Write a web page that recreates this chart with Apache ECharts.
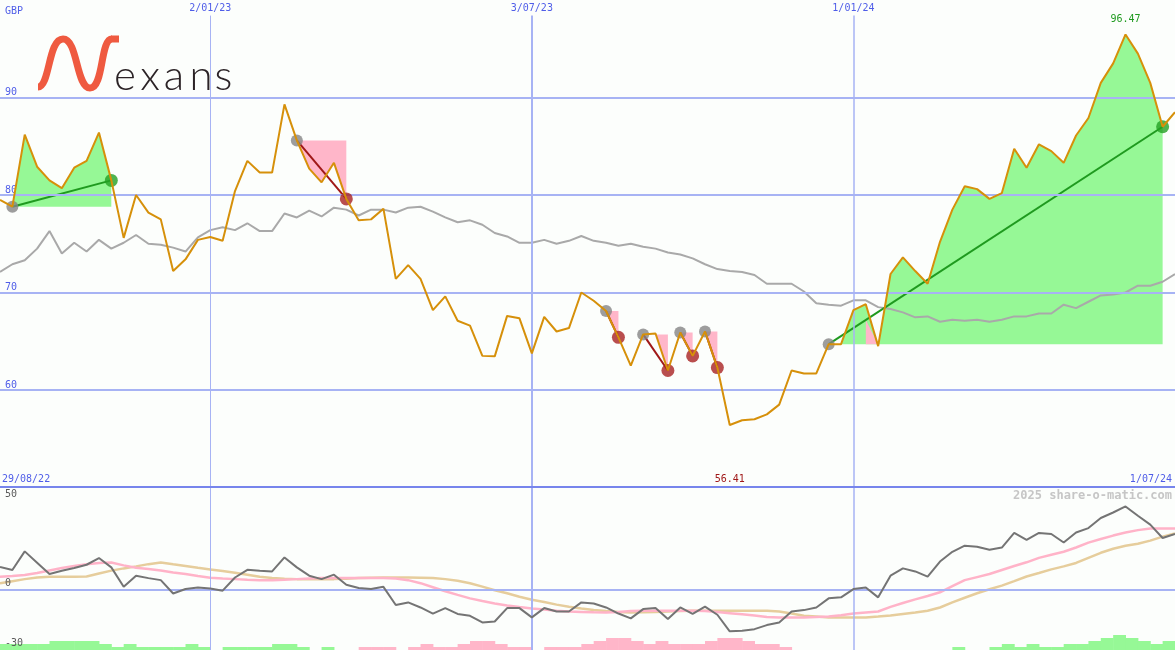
<!DOCTYPE html>
<html><head><meta charset="utf-8">
<script src="https://cdn.jsdelivr.net/npm/echarts@6/dist/echarts.min.js"></script>
<style>html,body{margin:0;padding:0;background:#fcfefc}#c{width:1175px;height:650px}</style>
</head><body><div id="c"></div>
<script>
// weekly dates (Mondays)
const dates = [
 '5/09/22','12/09/22','19/09/22','26/09/22','3/10/22','10/10/22','17/10/22','24/10/22','31/10/22',
 '7/11/22','14/11/22','21/11/22','28/11/22','5/12/22','12/12/22','19/12/22','26/12/22',
 '2/01/23','9/01/23','16/01/23','23/01/23','30/01/23','6/02/23','13/02/23','20/02/23','27/02/23',
 '6/03/23','13/03/23','20/03/23','27/03/23','3/04/23','10/04/23','17/04/23','24/04/23',
 '1/05/23','8/05/23','15/05/23','22/05/23','29/05/23','5/06/23','12/06/23','19/06/23','26/06/23',
 '3/07/23','10/07/23','17/07/23','24/07/23','31/07/23','7/08/23','14/08/23','21/08/23','28/08/23',
 '4/09/23','11/09/23','18/09/23','25/09/23','2/10/23','9/10/23','16/10/23','23/10/23','30/10/23',
 '6/11/23','13/11/23','20/11/23','27/11/23','4/12/23','11/12/23','18/12/23','25/12/23',
 '1/01/24','8/01/24','15/01/24','22/01/24','29/01/24','5/02/24','12/02/24','19/02/24','26/02/24',
 '4/03/24','11/03/24','18/03/24','25/03/24','1/04/24','8/04/24','15/04/24','22/04/24','29/04/24',
 '6/05/24','13/05/24','20/05/24','27/05/24','3/06/24','10/06/24','17/06/24','24/06/24','1/07/24'
];
// Nexans weekly close, GBP
const price = [
 79.5, 78.8, 86.2, 82.9, 81.5, 80.7, 82.8, 83.5, 86.4, 81.5,
 75.6, 80.0, 78.2, 77.5, 72.2, 73.4, 75.4, 75.7, 75.3, 80.4,
 83.5, 82.3, 82.3, 89.3, 85.6, 82.7, 81.3, 83.3, 79.6, 77.4,
 77.5, 78.6, 71.4, 72.8, 71.4, 68.2, 69.6, 67.1, 66.6, 63.5,
 63.45, 67.6, 67.35, 63.75, 67.5, 66.0, 66.35, 70.0, 69.15, 68.1,
 65.4, 62.5, 65.7, 65.8, 62.0, 65.9, 63.5, 66.0, 62.3, 56.41,
 56.9, 57.0, 57.5, 58.5, 62.0, 61.7, 61.7, 64.7, 64.7, 68.2,
 68.8, 64.5, 71.9, 73.6, 72.2, 70.9, 75.2, 78.5, 80.9, 80.6,
 79.6, 80.2, 84.75, 82.8, 85.2, 84.5, 83.3, 86.1, 87.9, 91.5,
 93.5, 96.47, 94.5, 91.5, 87.0, 88.5
];
// relative-strength comparison line (grey)
const relative = [
 72.1, 72.9, 73.3, 74.5, 76.3, 74.0, 75.1, 74.2, 75.4, 74.5,
 75.1, 75.9, 75.0, 74.9, 74.6, 74.2, 75.65, 76.4, 76.7, 76.4,
 77.1, 76.3, 76.3, 78.1, 77.7, 78.4, 77.8, 78.7, 78.5, 77.9,
 78.5, 78.5, 78.2, 78.7, 78.8, 78.3, 77.7, 77.2, 77.4, 76.95,
 76.1, 75.75, 75.1, 75.1, 75.4, 75.0, 75.3, 75.8, 75.3, 75.1,
 74.8, 75.0, 74.7, 74.5, 74.1, 73.9, 73.5, 72.9, 72.4, 72.2,
 72.1, 71.8, 70.9, 70.9, 70.9, 70.1, 68.9, 68.75, 68.65, 69.2,
 69.2, 68.5, 68.3, 67.96, 67.45, 67.55, 67.0, 67.2, 67.1, 67.2,
 67.0, 67.2, 67.55, 67.55, 67.85, 67.85, 68.75, 68.4, 69.05, 69.7,
 69.8, 70.0, 70.7, 70.7, 71.1, 71.9
];
// lower panel: momentum oscillator and its averages
const momentum = [
 11.0, 9.5, 18.7, 13.1, 7.5, 9.1, 10.5, 12.1, 15.4, 10.8,
 1.2, 6.7, 5.5, 4.5, -2.1, 0.1, 0.9, 0.4, -0.7, 5.8,
 9.6, 9.1, 8.8, 15.7, 10.8, 6.7, 5.0, 7.2, 2.2, 0.6,
 0.1, 1.2, -7.8, -6.5, -9.0, -12.0, -9.3, -12.2, -13.1, -16.4,
 -15.9, -9.3, -9.3, -13.9, -9.3, -11.0, -11.0, -6.5, -7.0, -9.0,
 -12.0, -14.4, -9.8, -9.3, -14.7, -9.0, -12.2, -8.6, -12.6, -20.8,
 -20.5, -19.7, -17.7, -16.4, -11.0, -10.3, -9.0, -4.5, -4.0, 0.1,
 0.9, -4.0, 6.7, 10.3, 8.8, 6.2, 13.7, 18.5, 21.5, 21.0,
 19.5, 20.6, 27.8, 24.4, 27.8, 27.3, 23.1, 28.0, 30.2, 35.2,
 37.9, 40.9, 36.3, 31.9, 25.3, 27.3
];
const maFast = [
 6.2, 6.5, 7.0, 8.0, 9.3, 10.5, 11.5, 12.3, 13.0, 13.2,
 11.8, 10.6, 10.0, 9.3, 8.3, 7.5, 6.5, 5.7, 5.3, 5.0,
 4.7, 4.5, 4.5, 4.7, 5.0, 5.3, 5.5, 5.5, 5.5, 5.5,
 5.5, 5.5, 5.3, 4.5, 3.0, 1.0, -1.0, -2.8, -4.5, -5.8,
 -7.0, -8.0, -8.8, -9.5, -10.0, -10.6, -11.0, -11.2, -11.4, -11.5,
 -11.2, -10.8, -10.6, -10.6, -10.6, -10.6, -10.6, -10.8, -11.2, -11.8,
 -12.4, -13.0, -13.7, -13.9, -13.9, -13.9, -13.7, -13.4, -12.8, -12.0,
 -11.5, -11.0, -8.7, -6.8, -5.0, -3.3, -1.5, 1.5, 4.5, 6.0,
 7.5, 9.5, 11.5, 13.3, 15.5, 17.0, 18.5, 20.6, 23.0, 24.8,
 26.5, 28.0, 29.2, 30.0, 30.0, 30.0
];
const maSlow = [
 2.9, 4.0, 5.0, 5.8, 6.2, 6.2, 6.2, 6.3, 7.8, 9.2,
 10.3, 11.3, 12.4, 13.2, 12.3, 11.5, 10.6, 9.8, 9.0, 8.1,
 7.2, 6.2, 5.5, 5.2, 5.0, 5.0, 5.0, 5.0, 5.2, 5.5,
 5.7, 5.8, 5.8, 5.8, 5.7, 5.5, 5.0, 4.2, 3.0, 1.3,
 -0.5, -2.0, -3.7, -5.2, -6.3, -7.6, -8.6, -9.5, -10.3, -10.8,
 -11.2, -11.5, -11.4, -11.2, -11.0, -10.8, -10.6, -10.6, -10.6, -10.6,
 -10.6, -10.6, -10.6, -11.0, -12.0, -13.1, -13.5, -13.9, -13.9, -13.9,
 -13.9, -13.5, -13.0, -12.2, -11.5, -10.6, -9.0, -6.5, -4.2, -2.0,
 0.0, 1.8, 4.0, 6.3, 8.0, 9.8, 11.3, 13.0, 15.5, 18.0,
 20.0, 21.5, 22.5, 24.0, 26.0, 27.6
];
// histogram strip at the bottom (signed level)
const histLevels = [
 2,2,2,2,3,3,3,3,2,1,
 2,1,1,1,1,2,1,0,1,1,
 1,1,2,2,1,0,1,0,0,-1,
 -1,-1,0,-1,-2,-1,-1,-2,-3,-3,
 -2,-1,-1,0,-1,-1,-1,-2,-3,-4,
 -4,-3,-2,-3,-2,-2,-2,-3,-4,-4,
 -3,-2,-2,-1,0,0,0,0,0,0,
 0,0,0,0,0,0,0,1,0,0,
 1,2,1,2,1,1,2,2,3,4,
 5,4,3,2,3,0
];
// signals
const tradeEntry = ['12/09/22','20/02/23','14/08/23','4/09/23','25/09/23','9/10/23','18/12/23'];
const tradeExit  = ['7/11/22','20/03/23','21/08/23','18/09/23','2/10/23','16/10/23','24/06/24'];
const tradeDir   = ['long','short','short','short','short','short','long'];
const dipWeeks   = ['8/01/24'];   // week where a long trade dipped under its trend line
const gridDates = ['2/01/23','3/07/23','1/01/24'];
const priceGrid = [60,70,80,90];

const BLUE_GRID = '#a7b3f4';
const LABEL_BLUE = '#4f5de8';
const MONO = "'DejaVu Sans Mono', monospace";
const GREEN_FILL = '#96f896', PINK_FILL = '#ffb6c9';

const chart = echarts.init(document.getElementById('c'), null, {renderer:'canvas'});

const trades = tradeEntry.map((e,i)=>({i0: dates.indexOf(e), i1: dates.indexOf(tradeExit[i]), dir: tradeDir[i]}));
function tradeLineAt(t, j){
  const a = price[t.i0], b = price[t.i1];
  return a + (b - a) * (j - t.i0) / (t.i1 - t.i0);
}

function fillItem(params, api){
  const t = trades[params.dataIndex];
  const base = price[t.i0];
  const pts = [api.coord([t.i0, base])];
  for (let j=t.i0;j<=t.i1;j++){
    const v = t.dir==='long' ? Math.max(price[j], base) : Math.min(price[j], base);
    pts.push(api.coord([j, v]));
  }
  pts.push(api.coord([t.i1, base]));
  const children = [{type:'polygon', shape:{points:pts}, style:{fill: t.dir==='long' ? GREEN_FILL : PINK_FILL}}];
  dipWeeks.forEach(d=>{
    const j = dates.indexOf(d);
    if (t.dir==='long' && j>=t.i0 && j<t.i1){
      children.push({type:'polygon', shape:{points:[
        api.coord([j, tradeLineAt(t, j)]), api.coord([j, base]), api.coord([j+1, Math.max(price[j+1], base)])
      ]}, style:{fill: PINK_FILL}});
    }
  });
  return {type:'group', children};
}
function barItem(params, api){
  const k = params.dataIndex;
  const lv = histLevels[k];
  if (!lv) return null;
  const p0 = api.coord([k, 0]);
  const p1 = api.coord([k, Math.abs(lv)]);
  const step = api.coord([1,0])[0] - api.coord([0,0])[0];
  return {type:'rect', shape:{x:p0[0], y:p1[1], width:step+0.5, height:p0[1]-p1[1]},
    style:{fill: lv>0 ? GREEN_FILL : PINK_FILL}};
}
const vWidths = [1, 2, 1.5];
function vLines(top, bottom){
  return gridDates.map((d,i)=>[
    {coord:[dates.indexOf(d), top], lineStyle:{color:BLUE_GRID, width:vWidths[i], type:'solid'}},
    {coord:[dates.indexOf(d), bottom]}
  ]);
}

const series = [];
series.push({type:'custom', name:'fills', xAxisIndex:0, yAxisIndex:0, z:1, silent:true,
  renderItem: fillItem, data: trades.map(t=>[t.i0, price[t.i0]]), clip:true});
series.push({type:'line', name:'gridMain', xAxisIndex:0, yAxisIndex:0, z:2, data:[], silent:true,
  markLine:{silent:true, symbol:['none','none'], label:{show:false}, animation:false,
    data: priceGrid.map(v=>({yAxis:v, lineStyle:{color:BLUE_GRID, width:2, type:'solid'}}))
      .concat(vLines(98.4, 50))}});
series.push({type:'line', name:'relative', xAxisIndex:0, yAxisIndex:0, z:3, data: relative,
  symbol:'none', lineStyle:{color:'#a9a9a9', width:2}, silent:true});
trades.forEach(t=>{
  series.push({type:'line', xAxisIndex:0, yAxisIndex:0, z:4, silent:true, symbol:'none',
    data:[[t.i0, price[t.i0]],[t.i1, price[t.i1]]],
    lineStyle:{color: t.dir==='long' ? '#1f9a1f' : '#a01818', width:2}});
});
series.push({type:'scatter', name:'entries', xAxisIndex:0, yAxisIndex:0, z:5, silent:true,
  symbolSize:12, itemStyle:{color:'#858585'}, data: trades.map(t=>[t.i0, price[t.i0]])});
series.push({type:'scatter', name:'exits', xAxisIndex:0, yAxisIndex:0, z:5, silent:true,
  symbolSize:13, data: trades.map(t=>({value:[t.i1, price[t.i1]], itemStyle:{color: t.dir==='long' ? '#23a023' : '#a82222'}}))});
series.push({type:'line', name:'price', xAxisIndex:0, yAxisIndex:0, z:6, data: price,
  symbol:'none', lineStyle:{color:'#d6900a', width:2}, silent:true,
  markPoint:{symbol:'circle', symbolSize:1, itemStyle:{color:'rgba(0,0,0,0)'}, silent:true,
    label:{show:true, position:'inside', fontFamily:MONO, fontSize:10,
      formatter: p => Number(p.value).toFixed(2)},
    data:[{type:'max', label:{offset:[0,-15], color:'#1f9a1f'}},
          {type:'min', label:{offset:[0,54], color:'#a01818'}}]}});

series.push({type:'custom', name:'hist', xAxisIndex:1, yAxisIndex:2, z:1, silent:true,
  renderItem: barItem, data: histLevels.map((v,k)=>[k, Math.abs(v)])});
series.push({type:'line', name:'gridLow', xAxisIndex:1, yAxisIndex:1, z:2, data:[], silent:true,
  markLine:{silent:true, symbol:['none','none'], label:{show:false}, animation:false,
    data:[{yAxis:0, lineStyle:{color:BLUE_GRID, width:2, type:'solid'}}].concat(vLines(50, -30))}});
series.push({type:'line', name:'slow', xAxisIndex:1, yAxisIndex:1, z:3, data:maSlow, symbol:'none',
  lineStyle:{color:'#e6cd9c', width:2.5}, silent:true});
series.push({type:'line', name:'fast', xAxisIndex:1, yAxisIndex:1, z:4, data:maFast, symbol:'none',
  lineStyle:{color:'#ffb3c8', width:2.5}, silent:true});
series.push({type:'line', name:'momentum', xAxisIndex:1, yAxisIndex:1, z:5, data:momentum, symbol:'none',
  lineStyle:{color:'#747474', width:2}, silent:true});

const option = {
  animation:false,
  backgroundColor:'#fcfefc',
  grid:[{left:0,right:0,top:0,height:487.5},{left:0,right:0,top:488,bottom:0}],
  xAxis:[
    {type:'category', gridIndex:0, data:dates, boundaryGap:false, position:'top',
      axisLine:{show:false}, axisTick:{show:false}, splitLine:{show:false},
      axisLabel:{inside:true, margin:3, color:LABEL_BLUE, fontFamily:MONO, fontSize:10,
        interval:(i,v)=>gridDates.includes(v)}},
    {type:'category', gridIndex:1, data:dates, boundaryGap:false,
      axisLine:{show:false}, axisTick:{show:false}, axisLabel:{show:false}, splitLine:{show:false}}
  ],
  yAxis:[
    {type:'value', gridIndex:0, min:50, max:100, interval:10,
      axisLine:{show:false}, axisTick:{show:false}, splitLine:{show:false},
      axisLabel:{inside:true, margin:5, verticalAlign:'bottom', color:LABEL_BLUE, fontFamily:MONO, fontSize:10,
        formatter: v => priceGrid.includes(v) ? String(v) : ''}},
    {type:'value', gridIndex:1, min:-30, max:50, interval:10, show:false, splitLine:{show:false}},
    {type:'value', gridIndex:1, min:0, max:54, show:false, splitLine:{show:false}}
  ],
  series: series
};
chart.setOption(option);

const y50 = chart.convertToPixel({yAxisIndex:1}, 50);
const y0 = chart.convertToPixel({yAxisIndex:1}, 0);
const yMin = chart.convertToPixel({yAxisIndex:1}, -30);
function txt(text, x, y, opt){
  return {type:'text', silent:true, z:100, style:Object.assign({text, x, y,
    font:'10px '+MONO, fill:LABEL_BLUE, textAlign:'left', textVerticalAlign:'middle',
    align:'left', verticalAlign:'middle'}, opt||{})};
}
function curve(x1,y1,c1x,c1y,c2x,c2y,x2,y2){
  return {type:'bezierCurve', silent:true, z:100,
    shape:{x1,y1,x2,y2,cpx1:c1x,cpy1:c1y,cpx2:c2x,cpy2:c2y},
    style:{stroke:'#ef5a40', lineWidth:7, fill:null}};
}
const letters = ['e','x','a','n','s'];
const letterX = [125, 150, 174, 201, 223.5];
const graphics = [
  {type:'line', silent:true, z:90, shape:{x1:0,y1:487,x2:1175,y2:487}, style:{stroke:'#7785ec', lineWidth:2}},
  txt('GBP', 5, 11),
  txt('29/08/22', 2, 479),
  txt('1/07/24', 1172, 479, {textAlign:'right', align:'right'}),
  txt('2025 share-o-matic.com', 1172, 496, {textAlign:'right', align:'right', fill:'#c6c6c6', font:'bold 12px '+MONO}),
  txt('50', 5, y50+1, {fill:'#5a5a5a', textVerticalAlign:'top', verticalAlign:'top'}),
  txt('0', 5, y0-1, {fill:'#5a5a5a', textVerticalAlign:'bottom', verticalAlign:'bottom'}),
  txt('-30', 5, yMin-2, {fill:'#5a5a5a', textVerticalAlign:'bottom', verticalAlign:'bottom'}),
  curve(38,87, 50,87, 48,39, 63,39),
  curve(63,39, 78,39, 76,88, 90,88),
  curve(90,88, 104,88, 100,39, 112,39),
  {type:'line', silent:true, z:100, shape:{x1:111,y1:39,x2:119,y2:39}, style:{stroke:'#ef5a40', lineWidth:7}}
];
letters.forEach((l,i)=>graphics.push(txt(l, letterX[i], 76, {font:'300 42px Lato', fill:'#2b2326', textAlign:'center', align:'center'})));
chart.setOption({graphic: graphics});
</script></body></html>
